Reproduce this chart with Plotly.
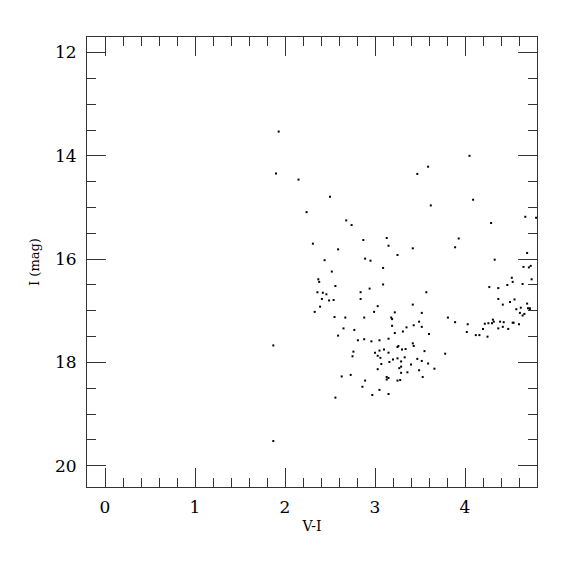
import plotly.graph_objects as go

# V-I colour and I magnitude of each star
v_minus_i = [
    1.93, 1.90, 2.15, 3.47, 2.50, 2.24, 2.68, 2.74, 2.87, 3.13,
    3.15, 3.42, 2.31, 2.59, 3.25, 2.44, 2.89, 2.95, 2.52, 3.09,
    2.37, 2.38, 2.56, 3.09, 2.36, 2.42, 2.46, 2.84, 2.94, 2.41,
    2.49, 2.54, 2.84, 2.39, 3.03, 3.42, 2.33, 2.99, 3.22, 2.55,
    2.67, 2.88, 3.18, 3.19, 3.49, 3.19, 3.35, 3.43, 2.65, 2.77,
    3.22, 3.31, 2.59, 2.81, 2.88, 2.96, 3.05, 3.15, 1.87, 3.26,
    3.25, 3.42, 3.43, 3.30, 3.34, 2.76, 3.00, 3.05, 3.10, 3.15,
    2.75, 3.03, 3.06, 3.20, 3.25, 3.33, 3.47, 3.16, 3.29, 3.07,
    3.40, 3.29, 3.27, 3.03, 3.49, 3.29, 3.36, 2.63, 2.73, 3.13,
    3.15, 3.13, 3.25, 3.28, 2.89, 2.86, 3.05, 2.97, 3.15, 2.56,
    1.87,
    4.05, 3.59, 4.09, 3.62, 4.67, 4.79, 4.29, 3.93, 3.89, 4.69,
    4.33, 4.65, 4.71, 4.73, 4.52, 4.53, 4.74, 4.64, 4.47, 4.27,
    4.37, 3.57, 4.37, 4.55, 4.42, 4.50, 4.69, 4.57, 4.62, 4.70,
    4.72, 4.72, 4.61, 4.66, 4.64, 3.52, 3.81, 3.89, 4.31, 4.32,
    4.03, 4.22, 4.26, 4.30, 4.39, 4.43, 4.53, 4.54, 4.60, 3.52,
    4.37, 4.42, 4.48, 4.20,
    4.02, 4.12, 4.16, 4.25, 3.78, 3.66, 3.60, 3.55, 3.59, 3.53,
    3.52,
]
i_mag = [
    13.53, 14.34, 14.46, 14.35, 14.79, 15.09, 15.25, 15.34, 15.63, 15.59,
    15.74, 15.79, 15.70, 15.81, 15.92, 16.02, 15.99, 16.03, 16.24, 16.17,
    16.39, 16.44, 16.52, 16.49, 16.64, 16.65, 16.68, 16.64, 16.57, 16.77,
    16.80, 16.79, 16.77, 16.92, 16.91, 16.88, 17.02, 17.02, 17.03, 17.12,
    17.13, 17.13, 17.13, 17.16, 17.21, 17.29, 17.32, 17.28, 17.34, 17.37,
    17.43, 17.40, 17.48, 17.57, 17.55, 17.59, 17.57, 17.54, 17.67, 17.68,
    17.70, 17.63, 17.68, 17.75, 17.74, 17.79, 17.81, 17.77, 17.75, 17.81,
    17.88, 17.87, 17.91, 17.94, 17.92, 17.90, 17.93, 17.99, 17.98, 18.03,
    18.04, 18.08, 18.11, 18.13, 18.15, 18.20, 18.19, 18.27, 18.24, 18.28,
    18.30, 18.33, 18.35, 18.34, 18.35, 18.47, 18.53, 18.63, 18.61, 18.68,
    19.52,
    14.00, 14.21, 14.85, 14.96, 15.18, 15.20, 15.30, 15.60, 15.77, 15.88,
    16.01, 16.15, 16.16, 16.13, 16.36, 16.44, 16.39, 16.48, 16.50, 16.54,
    16.56, 16.64, 16.77, 16.78, 16.88, 16.83, 16.86, 16.97, 16.94, 16.95,
    16.95, 16.97, 17.04, 17.06, 17.09, 17.04, 17.13, 17.22, 17.17, 17.21,
    17.26, 17.25, 17.24, 17.24, 17.21, 17.22, 17.23, 17.23, 17.26, 17.31,
    17.34, 17.31, 17.35, 17.35,
    17.41, 17.47, 17.47, 17.50, 17.83, 18.12, 17.45, 17.78, 18.02, 18.28,
    17.97,
]

x_ticks = [0, 1, 2, 3, 4]
y_ticks = [12, 14, 16, 18, 20]

FONT = "DejaVu Serif"
AX_COLOR = "#333333"

fig = go.Figure()
fig.add_trace(go.Scatter(
    x=v_minus_i, y=i_mag, mode="markers",
    marker=dict(symbol="square", size=2, color="black", line=dict(width=0)),
    showlegend=False, hoverinfo="x+y",
))

common = dict(
    showgrid=False, zeroline=False, showline=True, linecolor=AX_COLOR, linewidth=1,
    mirror="allticks", ticks="inside", ticklen=19, tickwidth=1, tickcolor=AX_COLOR,
    tickfont=dict(family=FONT, size=17, color="black"),
)

fig.update_xaxes(
    range=[-0.2, 4.8], tickmode="array", tickvals=x_ticks,
    ticktext=[str(v) for v in x_ticks],
    minor=dict(dtick=0.2, tick0=0, ticks="inside", ticklen=9, tickwidth=1, tickcolor=AX_COLOR),
    title=dict(text="V-I", font=dict(family=FONT, size=14, color="black"), standoff=4),
    ticklabelstandoff=5,
    **common,
)
fig.update_yaxes(
    range=[20.41, 11.70], tickmode="array", tickvals=y_ticks,
    ticktext=[str(v) for v in y_ticks],
    minor=dict(dtick=0.5, tick0=0, ticks="inside", ticklen=9, tickwidth=1, tickcolor=AX_COLOR),
    title=dict(text="I (mag)", font=dict(family=FONT, size=13, color="black"), standoff=12),
    ticklabelstandoff=6,
    **common,
)

# the page body adds an 8px offset, so margins are shifted to compensate
fig.update_layout(
    width=575, height=575,
    margin=dict(l=79, r=46, t=29, b=96),
    plot_bgcolor="white", paper_bgcolor="white",
)

fig.write_html("out.html")
